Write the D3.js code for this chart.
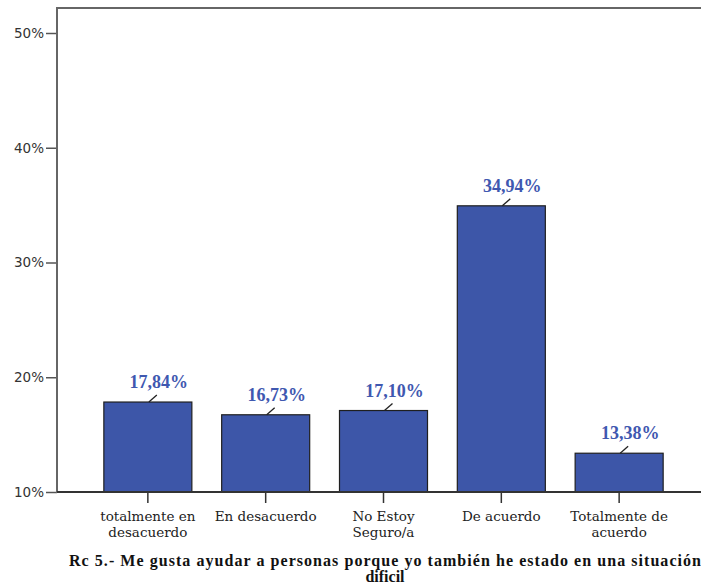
<!DOCTYPE html>
<html><head><meta charset="utf-8">
<script src="https://cdn.jsdelivr.net/npm/d3@7"></script>
<style>body{margin:0;background:#fff}svg{display:block}</style>
</head><body>
<svg id="c" width="701" height="587"></svg>
<script>
const categories = [["totalmente en","desacuerdo"],["En desacuerdo"],["No Estoy","Seguro/a"],["De acuerdo"],["Totalmente de","acuerdo"]];
const values = [17.84, 16.73, 17.10, 34.94, 13.38];
const valueLabels = ["17,84%","16,73%","17,10%","34,94%","13,38%"];
const yTicks = [10, 20, 30, 40, 50];
const yTickLabels = ["10%","20%","30%","40%","50%"];
const titleLines = ["Rc 5.- Me gusta ayudar a personas porque yo también he estado en una situación","dificil"];

(function(){
const svg = d3.select("#c");
const pLeft = 57, pTop = 8, pBottom = 492, pRight = 701;
const y = d3.scaleLinear().domain([10, 50]).range([pBottom, 33]);
const x = d3.scaleBand().domain(d3.range(values.length)).range([89, 678]).paddingInner(0.253).paddingOuter(0.126);

svg.append("line").attr("x1",pLeft).attr("x2",pRight).attr("y1",pTop).attr("y2",pTop).attr("stroke","#666").attr("stroke-width",2);

svg.selectAll("rect.bar").data(values).join("rect")
  .attr("x",(d,i)=>x(i)).attr("width",x.bandwidth())
  .attr("y",d=>y(d)).attr("height",d=>pBottom-y(d))
  .attr("fill","#3d56a8").attr("stroke","#1f1f1f").attr("stroke-width",1.2);

svg.selectAll("line.lead").data(values).join("line")
  .attr("x1",(d,i)=>x(i)+x.bandwidth()/2+1).attr("y1",d=>y(d))
  .attr("x2",(d,i)=>x(i)+x.bandwidth()/2+9).attr("y2",d=>y(d)-7)
  .attr("stroke","#222").attr("stroke-width",1.3);
svg.selectAll("text.vl").data(values).join("text")
  .attr("x",(d,i)=>x(i)+x.bandwidth()/2+11).attr("y",d=>y(d)-14)
  .attr("text-anchor","middle").attr("font-family","'Liberation Serif',serif")
  .attr("font-weight","bold").attr("font-size",18).attr("fill","#3f58b0")
  .text((d,i)=>valueLabels[i]);

const ya = svg.append("g").attr("transform",`translate(${pLeft},0)`)
  .call(d3.axisLeft(y).tickValues(yTicks).tickFormat((d,i)=>yTickLabels[i]).tickSize(11).tickPadding(2));
ya.select(".domain").remove();
ya.selectAll(".tick line").attr("stroke","#555").attr("stroke-width",1.5);
ya.selectAll(".tick text").attr("font-family","'DejaVu Sans',sans-serif").attr("font-size",13.5).attr("fill","#333");
svg.append("line").attr("x1",pLeft).attr("x2",pLeft).attr("y1",pTop-1).attr("y2",pBottom+1).attr("stroke","#666").attr("stroke-width",2);

const xa = svg.append("g").attr("transform",`translate(0,${pBottom})`)
  .call(d3.axisBottom(x).tickSize(11).tickFormat(""));
xa.select(".domain").remove();
xa.selectAll(".tick line").attr("stroke","#333").attr("stroke-width",1.5);
svg.append("line").attr("x1",pLeft).attr("x2",pRight).attr("y1",pBottom).attr("y2",pBottom).attr("stroke","#333").attr("stroke-width",2);

const xl = svg.selectAll("text.xl").data(categories).join("text")
  .attr("text-anchor","middle").attr("font-family","'DejaVu Serif',serif").attr("font-size",13.5).attr("fill","#222");
xl.each(function(lines,i){
  d3.select(this).selectAll("tspan").data(lines).join("tspan")
    .attr("x",x(i)+x.bandwidth()/2).attr("y",(l,j)=>521+j*15.5).text(l=>l);
});

svg.selectAll("text.tt").data(titleLines).join("text")
  .attr("x",385).attr("y",(d,i)=>566+i*16)
  .attr("text-anchor","middle").attr("font-family","'Liberation Serif',serif")
  .attr("font-weight","bold").attr("font-size",16).attr("fill","#111")
  .each(function(d,i){ if(i===0){ d3.select(this).attr("textLength",632).attr("lengthAdjust","spacing"); } })
  .text(d=>d);
})();
</script>
</body></html>
